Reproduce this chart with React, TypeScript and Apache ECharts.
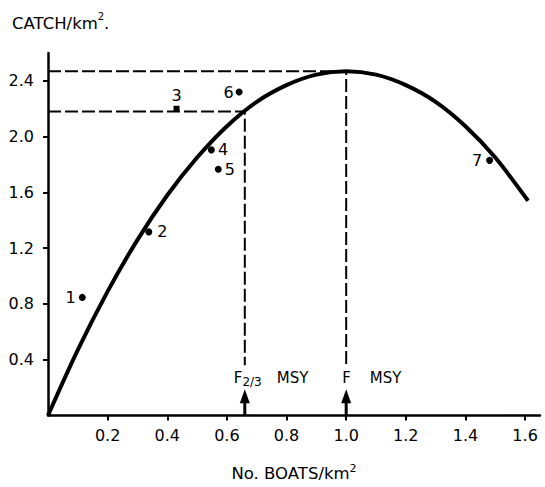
import React, { useEffect, useRef } from "react";
import * as echarts from "echarts";

// Fitted yield curve (boats/km², catch/km²)
const curveX = [0, 0.1, 0.2, 0.3, 0.4, 0.5, 0.6, 0.7, 0.8, 0.9, 1.0, 1.1, 1.2, 1.3, 1.4, 1.5, 1.61];
const curveY = [0, 0.47, 0.89, 1.26, 1.58, 1.85, 2.075, 2.25, 2.37, 2.445, 2.47, 2.445, 2.37, 2.25, 2.075, 1.85, 1.54];

// Observed points
const pointNames = ["1", "2", "3", "4", "5", "6", "7"];
const pointX = [0.115, 0.338, 0.431, 0.548, 0.571, 0.641, 1.481];
const pointY = [0.847, 1.317, 2.2, 1.905, 1.766, 2.32, 1.83];

// Reference levels
const msyEffort = 1.0;
const msyCatch = 2.47;
const f23Effort = 0.66;
const f23Catch = 2.18;
const dashBottom = 0.36;
const arrowTop = 0.1;
const arrowHead = 0.138;
const fLabelY = 0.27;

// Axis ticks
const xTicks = [0.2, 0.4, 0.6, 0.8, 1.0, 1.2, 1.4, 1.6];
const yTicks = [0.4, 0.8, 1.2, 1.6, 2.0, 2.4];

const FONT = "DejaVu Sans";

export default function App() {
  const ref = useRef<HTMLDivElement>(null);
  useEffect(() => {
    if (!ref.current) return;
    const chart = echarts.init(ref.current, null, { renderer: "svg" });
    const labelPos: Record<string, any> = {
      "1": { position: "left", distance: 3 },
      "2": { position: "right", distance: 5 },
      "3": { position: "top", distance: 2 },
      "4": { position: "right", distance: 3 },
      "5": { position: "right", distance: 3 },
      "6": { position: "left", distance: 2 },
      "7": { position: "left", distance: 4 },
    };
    const points = pointNames.map((n, i) => ({
      name: n,
      value: [pointX[i], pointY[i]],
      symbol: n === "3" ? "rect" : "circle",
      symbolSize: n === "3" ? 6 : 7,
      label: {
        show: true,
        formatter: n,
        color: "#000",
        fontSize: 16,
        fontFamily: FONT,
        ...labelPos[n],
      },
    }));
    const dashStyle = { color: "#000", width: 2, type: [13, 4] as any };
    const tok = (size: number, extra: any = {}) => ({
      fontSize: size,
      fontFamily: FONT,
      color: "#000",
      textBorderWidth: 0,
      ...extra,
    });
    chart.setOption({
      animation: false,
      textStyle: { fontFamily: FONT },
      grid: { left: 48, right: 5, top: 53, bottom: 66, containLabel: false },
      xAxis: {
        type: "value",
        min: 0,
        max: 1.65,
        interval: 0.05,
        name: "{a|No. BOATS/km}{s|2}",
        nameLocation: "middle",
        nameGap: 47,
        nameTextStyle: {
          rich: {
            a: { fontSize: 16.5, fontFamily: FONT, color: "#000", lineHeight: 22 },
            s: { fontSize: 11, fontFamily: FONT, color: "#000", lineHeight: 9, verticalAlign: "top" },
          },
        },
        splitLine: { show: false },
        axisLine: { lineStyle: { color: "#000", width: 2.5 } },
        axisTick: { customValues: xTicks, length: 5, lineStyle: { color: "#000", width: 2 } },
        axisLabel: {
          customValues: xTicks,
          formatter: (v: number) => v.toFixed(1),
          fontSize: 16,
          fontFamily: FONT,
          color: "#000",
          margin: 12,
        },
      },
      yAxis: {
        type: "value",
        min: 0,
        max: 2.6,
        interval: 0.2,
        splitLine: { show: false },
        axisLine: { show: true, lineStyle: { color: "#000", width: 2.5 } },
        axisTick: { show: true, customValues: yTicks, length: 5, lineStyle: { color: "#000", width: 2 } },
        axisLabel: {
          customValues: yTicks,
          formatter: (v: number) => v.toFixed(1),
          fontSize: 16,
          fontFamily: FONT,
          color: "#000",
          margin: 14,
        },
      },
      graphic: [
        {
          type: "text",
          left: 12,
          top: 11,
          style: {
            text: "{a|CATCH/km}{s|2}{a|.}",
            rich: {
              a: { fontSize: 16.5, fontFamily: FONT, fill: "#000", lineHeight: 24 },
              s: { fontSize: 10, fontFamily: FONT, fill: "#000", lineHeight: 10, verticalAlign: "top" },
            },
          },
        },
      ],
      series: [
        {
          name: "msy",
          type: "line",
          data: [[0, msyCatch], [msyEffort, msyCatch], [msyEffort, dashBottom]],
          showSymbol: false,
          lineStyle: dashStyle,
          silent: true,
        },
        {
          name: "f23",
          type: "line",
          data: [[0, f23Catch], [f23Effort, f23Catch], [f23Effort, dashBottom]],
          showSymbol: false,
          lineStyle: dashStyle,
          silent: true,
        },
        {
          name: "curve",
          type: "line",
          smooth: 0.3,
          data: curveX.map((x, i) => [x, curveY[i]]),
          showSymbol: false,
          lineStyle: { color: "#000", width: 4 },
        },
        {
          name: "points",
          type: "scatter",
          data: points,
          itemStyle: { color: "#000", opacity: 1 },
        },
        {
          name: "arrowShaft1",
          type: "line",
          data: [[f23Effort, 0], [f23Effort, arrowTop]],
          showSymbol: false,
          lineStyle: { color: "#000", width: 3 },
        },
        {
          name: "arrowShaft2",
          type: "line",
          data: [[msyEffort, 0], [msyEffort, arrowTop]],
          showSymbol: false,
          lineStyle: { color: "#000", width: 3 },
        },
        {
          name: "arrowHeads",
          type: "scatter",
          symbol: "triangle",
          symbolSize: [10, 14],
          itemStyle: { color: "#000", opacity: 1 },
          data: [[f23Effort, arrowHead], [msyEffort, arrowHead]],
        },
        {
          name: "fLabels",
          type: "scatter",
          symbolSize: 0,
          silent: true,
          itemStyle: { color: "#000", opacity: 1 },
          data: [
            {
              value: [f23Effort, fLabelY],
              label: {
                show: true,
                position: "right",
                distance: 0,
                offset: [-11, 0],
                formatter: "{f|F}{s|2/3}{m|MSY}",
              },
            },
            {
              value: [msyEffort, fLabelY],
              label: {
                show: true,
                position: "right",
                distance: 0,
                offset: [-4, 0],
                formatter: "{f|F}{m2|MSY}",
              },
            },
          ],
          label: {
            color: "#000",
            textBorderWidth: 0,
            fontFamily: FONT,
            fontSize: 15,
            rich: {
              f: tok(15, { lineHeight: 20 }),
              s: tok(12, { lineHeight: 12, verticalAlign: "bottom" }),
              m: tok(15, { lineHeight: 20, padding: [0, 0, 0, 15] }),
              m2: tok(15, { lineHeight: 20, padding: [0, 0, 0, 19] }),
            },
          },
        },
      ],
    });
    return () => chart.dispose();
  }, []);
  return <div ref={ref} style={{ width: 545, height: 487, position: "absolute", left: 0, top: 0 }} />;
}
